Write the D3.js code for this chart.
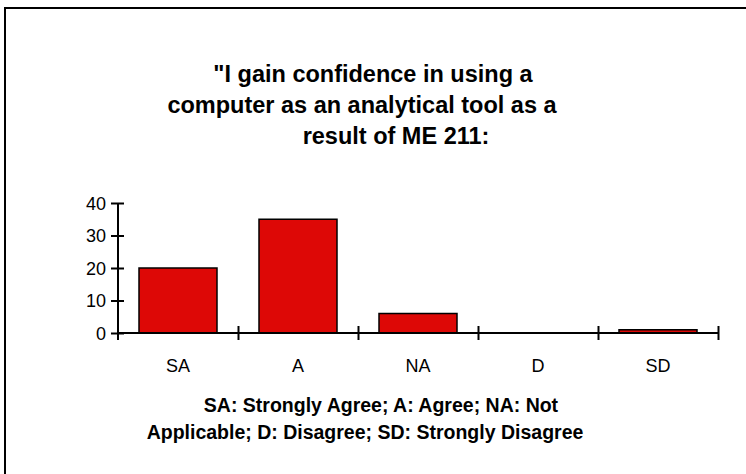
<!DOCTYPE html>
<html>
<head>
<meta charset="utf-8">
<script src="https://cdn.jsdelivr.net/npm/d3@7"></script>
<style>
  body { margin: 0; background: #fff; }
  svg { display: block; font-family: "Liberation Sans", Arial, sans-serif; }
</style>
</head>
<body>
<svg id="chart" width="746" height="474"></svg>
<script>
"use strict";

var categories = ["SA", "A", "NA", "D", "SD"];
var counts = [20, 35, 6, 0, 1];
var yTicks = [0, 10, 20, 30, 40];
var titleLines = ["\"I gain confidence in using a", "computer as an analytical tool as a", "result of ME 211:"];
var noteLines = ["SA: Strongly Agree; A: Agree; NA: Not", "Applicable; D: Disagree; SD: Strongly Disagree"];

var svg = d3.select("#chart");

// outer frame, runs off the right and bottom edges
svg.append("rect")
    .attr("x", 5).attr("y", 8)
    .attr("width", 760).attr("height", 480)
    .attr("fill", "none").attr("stroke", "#000").attr("stroke-width", 2);

var titleX = [373, 362, 396];
svg.selectAll("text.title").data(titleLines).enter().append("text")
    .attr("class", "title")
    .attr("x", function (d, i) { return titleX[i]; })
    .attr("y", function (d, i) { return 82 + i * 31; })
    .attr("text-anchor", "middle")
    .style("font-weight", "bold").style("font-size", "23.5px")
    .text(function (d) { return d; });

var plotLeft = 118, plotRight = 718, plotBottom = 333, plotTop = 203;

var x = d3.scaleBand().domain(categories).range([plotLeft, plotRight])
    .paddingInner(0.35).paddingOuter(0.175);
var xEdge = d3.scaleLinear().domain([0, categories.length]).range([plotLeft, plotRight]);
var y = d3.scaleLinear().domain([0, 40]).range([plotBottom, plotTop]);

var g = svg.append("g");

g.selectAll("rect.bar").data(counts).enter().append("rect")
    .attr("class", "bar")
    .attr("x", function (d, i) { return x(categories[i]); })
    .attr("width", x.bandwidth())
    .attr("y", function (d) { return y(d); })
    .attr("height", function (d) { return plotBottom - y(d); })
    .attr("fill", "#dd0806")
    .attr("stroke", "#000").attr("stroke-width", 1.5)
    .style("display", function (d) { return d > 0 ? null : "none"; });

// y axis with ticks crossing the line
var yAxis = d3.axisLeft(y).tickValues(yTicks).tickSize(0).tickPadding(0);
var gY = g.append("g").attr("transform", "translate(" + plotLeft + ",0)").call(yAxis);
gY.select(".domain").remove();
gY.append("line").attr("y1", plotTop).attr("y2", plotBottom + 7)
    .attr("stroke", "#000").attr("stroke-width", 2);
gY.selectAll(".tick").append("line")
    .attr("x1", -7).attr("x2", 6)
    .attr("stroke", "#000").attr("stroke-width", 2);
gY.selectAll(".tick text")
    .attr("x", -12).attr("dy", "0.35em")
    .style("font-size", "18px").style("font-family", "Liberation Sans, Arial, sans-serif")
    .attr("fill", "#000");

// x axis: boundary ticks + centered labels
var xAxis = d3.axisBottom(xEdge).tickValues(d3.range(1, categories.length + 1))
    .tickSize(0).tickFormat("");
var gX = g.append("g").attr("transform", "translate(0," + plotBottom + ")").call(xAxis);
gX.select(".domain").remove();
gX.append("line").attr("x1", plotLeft).attr("x2", plotRight)
    .attr("stroke", "#000").attr("stroke-width", 2);
gX.selectAll(".tick").append("line")
    .attr("y1", -7).attr("y2", 7)
    .attr("stroke", "#000").attr("stroke-width", 2);

var labelAxis = d3.axisBottom(x).tickSize(0).tickPadding(0);
var gL = g.append("g").attr("transform", "translate(0," + plotBottom + ")").call(labelAxis);
gL.select(".domain").remove();
gL.selectAll(".tick text")
    .attr("y", 39).attr("dy", "0")
    .style("font-size", "18px").style("font-family", "Liberation Sans, Arial, sans-serif")
    .attr("fill", "#000");

var noteX = [381, 365];
svg.selectAll("text.note").data(noteLines).enter().append("text")
    .attr("class", "note")
    .attr("x", function (d, i) { return noteX[i]; })
    .attr("y", function (d, i) { return 412 + i * 27; })
    .attr("text-anchor", "middle")
    .style("font-weight", "bold").style("font-size", "19.5px")
    .text(function (d) { return d; });
</script>
</body>
</html>
